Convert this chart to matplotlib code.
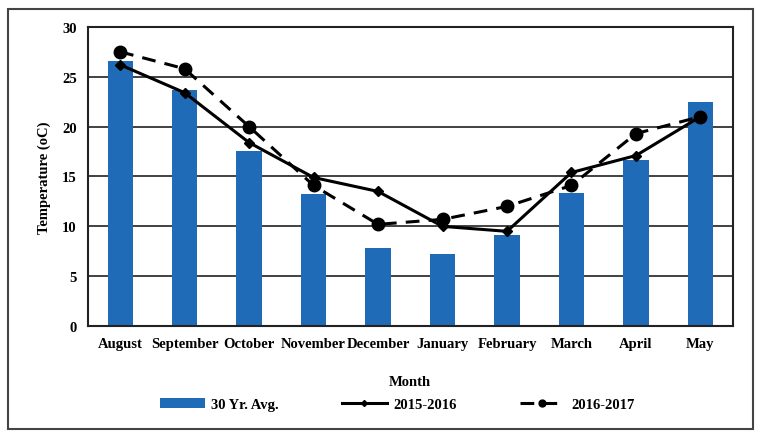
import numpy as np
import matplotlib.pyplot as plt
from matplotlib.patches import Rectangle

# ---- data ----
months = ["August", "September", "October", "November", "December",
          "January", "February", "March", "April", "May"]
avg_30yr = [26.6, 23.7, 17.6, 13.2, 7.8, 7.2, 9.1, 13.3, 16.7, 22.5]
t_2015_2016 = [26.2, 23.4, 18.4, 14.9, 13.5, 10.0, 9.5, 15.4, 17.1, 21.0]
t_2016_2017 = [27.5, 25.8, 20.0, 14.1, 10.2, 10.7, 12.0, 14.1, 19.3, 21.0]

plt.rcParams['font.family'] = ['Liberation Serif', 'DejaVu Serif']
plt.rcParams['font.weight'] = 'bold'
plt.rcParams['axes.labelweight'] = 'bold'

fig = plt.figure(figsize=(7.64, 4.35), dpi=100)
ax = fig.add_axes([0.115, 0.248, 0.844, 0.688])

x = np.arange(len(months))
bars = ax.bar(x, avg_30yr, width=0.39, color="#1f6bb8", label="30 Yr. Avg.", zorder=2)
l1, = ax.plot(x, t_2015_2016, color="black", lw=2.2, marker="D", ms=5.5,
              label="2015-2016", zorder=3)
l2, = ax.plot(x, t_2016_2017, color="black", lw=2.2, ls=(0, (4.5, 3)), marker="o", ms=9,
              label="2016-2017", zorder=4)

ax.set_xlim(-0.5, 9.5)
ax.set_ylim(0, 30)
ax.set_yticks(range(0, 31, 5))
ax.set_xticks(x)
ax.set_xticklabels(months, fontsize=10.5)
ax.tick_params(axis="y", labelsize=10.5)
ax.tick_params(length=0, pad=8)
ax.grid(axis="y", color="#333333", lw=1.3, zorder=0)
for s in ax.spines.values():
    s.set_color("#222222")
    s.set_linewidth(1.5)

ax.set_ylabel("Temperature (oC)", fontsize=10.5, labelpad=8)
ax.set_xlabel("Month", fontsize=10.5, labelpad=18)

fig.legend([bars, l1, l2], ["30 Yr. Avg.", "2015-2016", "2016-2017"],
           loc="center", bbox_to_anchor=(0.52, 0.067), ncol=3, frameon=False,
           fontsize=10.5, handlelength=3.1, handletextpad=0.45,
           columnspacing=4.3, markerscale=0.55)

# outer border round the whole chart
fig.patches.append(Rectangle((0.011, 0.012), 0.975, 0.965, transform=fig.transFigure,
                             fill=False, edgecolor="#444444", lw=1.5))

plt.savefig("out.png", dpi=100)
